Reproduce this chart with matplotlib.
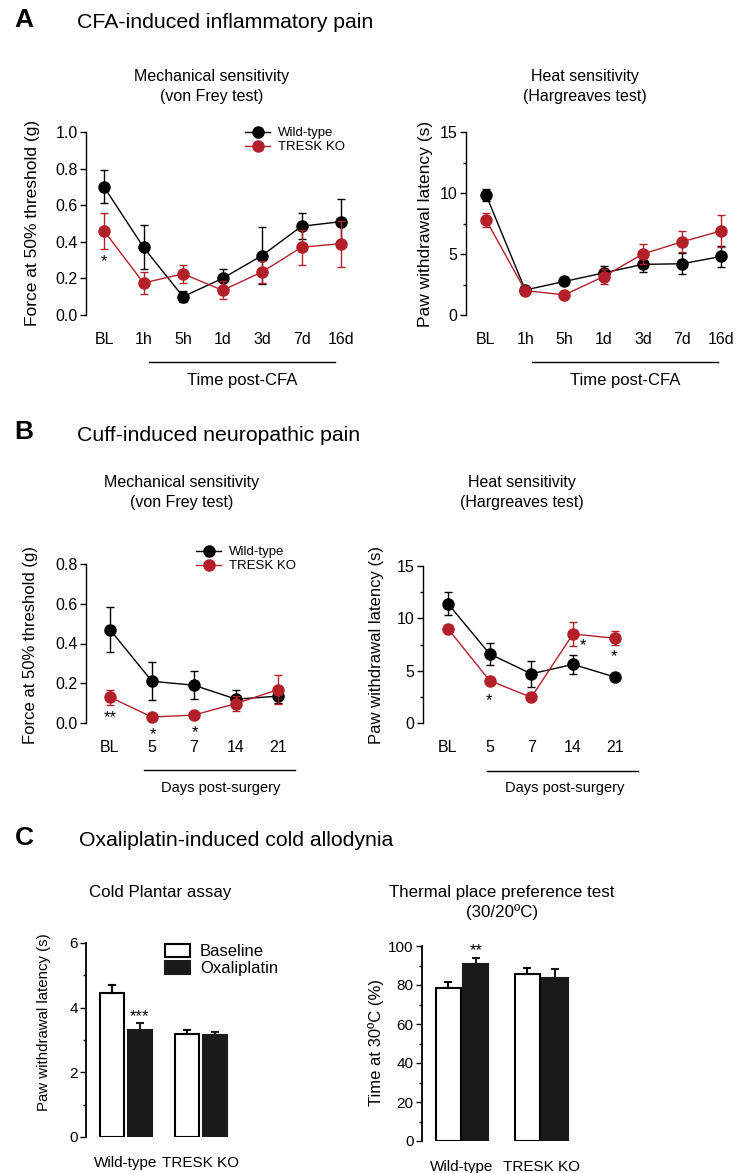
import matplotlib
matplotlib.use('Agg')
import matplotlib.pyplot as plt
from matplotlib.lines import Line2D
from matplotlib.ticker import MultipleLocator
import matplotlib.transforms as mtransforms

plt.rcParams['font.family'] = ['Liberation Sans', 'DejaVu Sans']
plt.rcParams['font.size'] = 11

W, H = 739, 1173
RED = '#b3202a'

# ---- data ----
cfa_labels = ['BL', '1h', '5h', '1d', '3d', '7d', '16d']
cfa_mech_wt = [0.70, 0.37, 0.10, 0.20, 0.325, 0.485, 0.51]
cfa_mech_wt_err = [0.09, 0.12, 0.03, 0.05, 0.155, 0.07, 0.125]
cfa_mech_ko = [0.46, 0.175, 0.225, 0.135, 0.235, 0.37, 0.39]
cfa_mech_ko_err = [0.10, 0.06, 0.05, 0.05, 0.06, 0.095, 0.125]
cfa_heat_wt = [9.85, 2.05, 2.75, 3.45, 4.15, 4.2, 4.8]
cfa_heat_wt_err = [0.5, 0.1, 0.15, 0.6, 0.6, 0.85, 0.85]
cfa_heat_ko = [7.8, 2.0, 1.65, 3.15, 5.0, 6.0, 6.9]
cfa_heat_ko_err = [0.6, 0.1, 0.1, 0.6, 0.8, 0.85, 1.3]

cuff_labels = ['BL', '5', '7', '14', '21']
cuff_mech_wt = [0.47, 0.21, 0.19, 0.12, 0.135]
cuff_mech_wt_err = [0.113, 0.095, 0.07, 0.047, 0.035]
cuff_mech_ko = [0.13, 0.03, 0.04, 0.098, 0.168]
cuff_mech_ko_err = [0.038, 0.005, 0.005, 0.04, 0.072]
cuff_heat_wt = [11.4, 6.6, 4.7, 5.6, 4.4]
cuff_heat_wt_err = [1.1, 1.05, 1.27, 0.9, 0.2]
cuff_heat_ko = [9.0, 4.05, 2.45, 8.5, 8.1]
cuff_heat_ko_err = [0.4, 0.3, 0.2, 1.15, 0.65]

groups = ['Wild-type', 'TRESK KO']
cold_base = [4.45, 3.18]
cold_base_err = [0.26, 0.13]
cold_oxa = [3.32, 3.16]
cold_oxa_err = [0.21, 0.09]
tpp_base = [78.5, 85.5]
tpp_base_err = [3.1, 3.4]
tpp_oxa = [90.8, 83.8]
tpp_oxa_err = [2.9, 4.4]


def box(l, t, r, b):
    return [l/W, 1 - b/H, (r - l)/W, (b - t)/H]


def ftext(x, y, s, **kw):
    kw.setdefault('ha', 'center')
    kw.setdefault('va', 'center')
    kw.setdefault('fontsize', 11.5)
    fig.text(x/W, 1 - y/H, s, **kw)


def hline(x0, x1, y):
    fig.add_artist(Line2D([x0/W, x1/W], [1 - y/H, 1 - y/H],
                          transform=fig.transFigure, color='black', lw=1.0))


def style_axis(ax, ylim, major, minor=None, fs=11.5):
    ax.set_ylim(ylim)
    for s in ['top', 'right', 'bottom']:
        ax.spines[s].set_visible(False)
    ax.spines['left'].set_linewidth(1.0)
    ax.yaxis.set_major_locator(MultipleLocator(major))
    if minor:
        ax.yaxis.set_minor_locator(MultipleLocator(minor))
    ax.tick_params(axis='y', which='major', length=4, width=1.0,
                   labelsize=fs, pad=2)
    ax.tick_params(axis='y', which='minor', length=2.5, width=1.0)
    ax.tick_params(axis='x', length=0, labelsize=fs, pad=12)


def line_plot(ax, labels, wt, wt_err, ko, ko_err):
    x = list(range(len(labels)))
    ax.errorbar(x, wt, yerr=wt_err, fmt='o-', color='black', ms=8, lw=1.0,
                elinewidth=1.0, capsize=3, capthick=1.0, clip_on=False,
                zorder=3)
    ax.errorbar(x, ko, yerr=ko_err, fmt='o-', color=RED, ms=8, lw=1.0,
                elinewidth=1.0, capsize=3, capthick=1.0, clip_on=False,
                zorder=4)
    ax.set_xticks(x)
    ax.set_xticklabels(labels)
    # the BL label sits a little to the right of its point
    lab = ax.get_xticklabels()[0]
    off = mtransforms.ScaledTranslation(5/100, 0, fig.dpi_scale_trans)
    lab.set_transform(lab.get_transform() + off)


def line_legend(ax, x, y):
    handles = [Line2D([], [], color='black', marker='o', ms=8, lw=1.0),
               Line2D([], [], color=RED, marker='o', ms=8, lw=1.0)]
    ax.legend(handles, ['Wild-type', 'TRESK KO'], loc='upper left',
              bbox_to_anchor=(x/W, 1 - y/H), bbox_transform=fig.transFigure,
              frameon=False, fontsize=9.5, handlelength=1.9,
              handletextpad=0.6, labelspacing=0.15, borderpad=0,
              borderaxespad=0)


def star(ax, x, y, s):
    ax.text(x, y, s, ha='center', va='center', fontsize=12)


fig = plt.figure(figsize=(W/100, H/100), dpi=100)

# ---------------- A ----------------
ftext(24, 20, 'A', fontsize=19, fontweight='bold')
ftext(77, 22, 'CFA-induced inflammatory pain', fontsize=15.3, ha='left')
ftext(212, 76, 'Mechanical sensitivity')
ftext(212, 96, '(von Frey test)')
ftext(585, 76, 'Heat sensitivity')
ftext(585, 96, '(Hargreaves test)')

ax = fig.add_axes(box(86, 132, 360, 315))
line_plot(ax, cfa_labels, cfa_mech_wt, cfa_mech_wt_err,
          cfa_mech_ko, cfa_mech_ko_err)
style_axis(ax, (0, 1.0), 0.2)
ax.yaxis.set_major_formatter(lambda v, p: f'{v:.1f}')
ax.set_xlim(-0.456, 6.48)
star(ax, 0, 0.29, '*')
line_legend(ax, 245, 127)
ftext(33, 223, 'Force at 50% threshold (g)', rotation=90, fontsize=12.5)
hline(149, 335, 362)
ftext(242, 381, 'Time post-CFA', fontsize=12)

ax = fig.add_axes(box(466, 132, 735, 315))
line_plot(ax, cfa_labels, cfa_heat_wt, cfa_heat_wt_err,
          cfa_heat_ko, cfa_heat_ko_err)
style_axis(ax, (0, 15), 5, 2.5)
ax.set_xlim(-0.51, 6.35)
ftext(425, 224, 'Paw withdrawal latency (s)', rotation=90, fontsize=12.5)
hline(532, 718, 362)
ftext(625, 381, 'Time post-CFA', fontsize=12)

# ---------------- B ----------------
ftext(24, 432, 'B', fontsize=19, fontweight='bold')
ftext(77, 435, 'Cuff-induced neuropathic pain', fontsize=15.3, ha='left')
ftext(182, 483, 'Mechanical sensitivity')
ftext(182, 503, '(von Frey test)')
ftext(522, 483, 'Heat sensitivity')
ftext(522, 503, '(Hargreaves test)')

ax = fig.add_axes(box(86, 564, 310, 723))
line_plot(ax, cuff_labels, cuff_mech_wt, cuff_mech_wt_err,
          cuff_mech_ko, cuff_mech_ko_err)
style_axis(ax, (0, 0.8), 0.2)
ax.yaxis.set_major_formatter(lambda v, p: f'{v:.1f}')
ax.set_xlim(-0.57, 4.76)
star(ax, 0, 0.025, '**')
star(ax, 1.02, -0.058, '*')
star(ax, 2.02, -0.05, '*')
line_legend(ax, 196, 546)
ftext(31, 645, 'Force at 50% threshold (g)', rotation=90, fontsize=12)
hline(144, 295, 770)
ftext(221, 788, 'Days post-surgery', fontsize=10.5)

ax = fig.add_axes(box(423, 566, 650, 723))
line_plot(ax, cuff_labels, cuff_heat_wt, cuff_heat_wt_err,
          cuff_heat_ko, cuff_heat_ko_err)
style_axis(ax, (0, 15), 5, 2.5)
ax.set_xlim(-0.6, 4.85)
star(ax, 0.98, 2.1, '*')
star(ax, 3.24, 7.4, '*')
star(ax, 3.98, 6.35, '*')
ftext(376, 645, 'Paw withdrawal latency (s)', rotation=90, fontsize=12)
hline(487, 638, 771)
ftext(565, 788, 'Days post-surgery', fontsize=10.5)

# ---------------- C ----------------
ftext(24, 838, 'C', fontsize=19, fontweight='bold')
ftext(79, 840, 'Oxaliplatin-induced cold allodynia', fontsize=15.3, ha='left')
ftext(160, 892, 'Cold Plantar assay', fontsize=12.2)
ftext(502, 892, 'Thermal place preference test', fontsize=12.2)
ftext(502, 912, '(30/20ºC)', fontsize=12.2)


def bar_plot(ax, base, base_err, oxa, oxa_err, off, width):
    x = list(range(len(groups)))
    xb = [i - off for i in x]
    xo = [i + off for i in x]
    ax.bar(xb, base, width, yerr=[[0]*len(base), base_err], color='white',
           edgecolor='black', linewidth=1.5, label='Baseline',
           error_kw=dict(elinewidth=1.5, capsize=3, capthick=1.5))
    ax.bar(xo, oxa, width, yerr=[[0]*len(oxa), oxa_err], color='#1a1a1a',
           edgecolor='#1a1a1a', linewidth=1.5, label='Oxaliplatin',
           error_kw=dict(elinewidth=1.5, capsize=3, capthick=1.5,
                         ecolor='#1a1a1a'))
    ax.set_xticks(x)
    ax.set_xticklabels(groups)
    return xo


ax = fig.add_axes(box(86, 943, 300, 1137))
xo = bar_plot(ax, cold_base, cold_base_err, cold_oxa, cold_oxa_err,
              0.183, 0.32)
style_axis(ax, (0, 6), 2, 1, fs=11)
ax.spines['left'].set_linewidth(1.3)
ax.tick_params(axis='x', pad=14)
ax.set_xlim(-0.533, 2.32)
star(ax, xo[0], 3.72, '***')
ax.legend(loc='upper left', bbox_to_anchor=(165/W, 1 - 944/H),
          bbox_transform=fig.transFigure, frameon=False, fontsize=12,
          handlelength=1.5, handleheight=0.85, handletextpad=0.6,
          labelspacing=0.1, borderpad=0, borderaxespad=0)
ftext(44, 1022, 'Paw withdrawal latency (s)', rotation=90, fontsize=10.8)

ax = fig.add_axes(box(422, 946, 640, 1141))
xo = bar_plot(ax, tpp_base, tpp_base_err, tpp_oxa, tpp_oxa_err,
              0.174, 0.32)
style_axis(ax, (0, 100), 20, 10, fs=11)
ax.spines['left'].set_linewidth(1.3)
ax.tick_params(axis='x', pad=14)
ax.set_xlim(-0.506, 2.25)
star(ax, xo[0], 97.5, '**')
ftext(376, 1043, 'Time at 30ºC (%)', rotation=90, fontsize=12)

fig.savefig('out.png', dpi=100)
